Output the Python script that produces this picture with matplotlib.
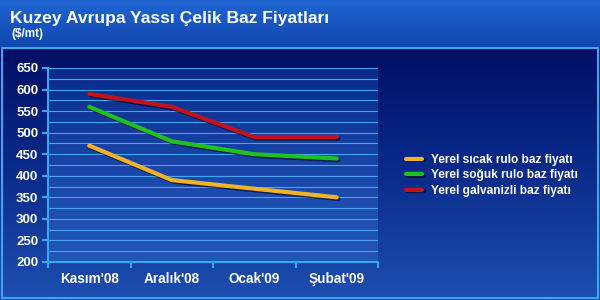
import numpy as np
import matplotlib.pyplot as plt
import matplotlib.patheffects as pe
from matplotlib.colors import LinearSegmentedColormap
from matplotlib.patches import Rectangle

plt.rcParams['font.family'] = ['Liberation Sans', 'DejaVu Sans']
plt.rcParams['font.weight'] = 'bold'

months = ["Kasım'08", "Aralık'08", "Ocak'09", "Şubat'09"]
sicak = [470, 390, 370, 350]
soguk = [560, 480, 450, 440]
galvaniz = [590, 560, 490, 490]
labels = ['Yerel sıcak rulo baz fiyatı', 'Yerel soğuk rulo baz fiyatı', 'Yerel galvanizli baz fiyatı']
colors = ['#f2b225', '#1ec21e', '#c4121c']

fig = plt.figure(figsize=(6, 3), dpi=100)

# background: title band + dark frame
bg = fig.add_axes([0, 0, 1, 1])
bg.set_xlim(0, 600)
bg.set_ylim(300, 0)
bg.axis('off')
top_cmap = LinearSegmentedColormap.from_list('top', ['#2066d2', '#1045ae'])
bg.imshow(np.linspace(0, 1, 50).reshape(-1, 1), cmap=top_cmap, aspect='auto',
          extent=[0, 600, 48, 0], zorder=0)
frame_cmap = LinearSegmentedColormap.from_list('frame', ['#000f66', '#0a2c8c', '#1d4fb0'])
bg.imshow(np.linspace(0, 1, 250).reshape(-1, 1), cmap=frame_cmap, aspect='auto',
          extent=[0, 600, 300, 48], zorder=0)
bg.add_patch(Rectangle((1.5, 47.5), 596, 250, fill=False, edgecolor='#38a6f0', lw=1.5, zorder=1))
bg.text(10, 23, 'Kuzey Avrupa Yassı Çelik Baz Fiyatları', color='white', fontsize=12.6,
        fontweight='bold', va='baseline')
bg.text(11, 37, '($/mt)', color='white', fontsize=8.5, fontweight='bold', va='baseline')

ax = fig.add_axes([48 / 600, 1 - 262 / 300, 330 / 600, 194 / 300])
ax.set_facecolor('none')
plot_cmap = LinearSegmentedColormap.from_list('plot', ['#0a2a8a', '#1846a8', '#2158b8'])
ax.imshow(np.linspace(0, 1, 100).reshape(-1, 1), cmap=plot_cmap, aspect='auto',
          extent=[-0.5, 3.5, 200, 650], zorder=0, origin='upper')

x = np.arange(len(months))
shadow = [pe.SimpleLineShadow(offset=(1.2, -1.2), shadow_color='#000020', alpha=0.6), pe.Normal()]
for vals, c, lab in zip([sicak, soguk, galvaniz], colors, labels):
    ax.plot(x, vals, color=c, lw=3, solid_capstyle='round', label=lab, zorder=3,
            path_effects=shadow)

ax.set_xlim(-0.5, 3.5)
ax.set_ylim(200, 650)
ax.set_yticks(np.arange(200, 651, 50))
ax.set_yticks(np.arange(225, 651, 50), minor=True)
ax.grid(True, which='both', axis='y', color='#45a6ee', lw=0.8, zorder=1)
ax.set_xticks(x)
ax.set_xticklabels(months)
ax.set_xticks(np.arange(-0.5, 3.6, 1), minor=True)
ax.tick_params(axis='x', which='major', length=0, pad=7, colors='white', labelsize=9.8)
ax.tick_params(axis='x', which='minor', length=4, color='#38a6f0', direction='out', width=1.5)
ax.tick_params(axis='y', which='major', length=4, color='#38a6f0', width=1.5, colors='white',
               labelsize=9.5, pad=3)
ax.tick_params(axis='y', which='minor', length=0)
for lbl in ax.get_xticklabels() + ax.get_yticklabels():
    lbl.set_fontweight('bold')
ax.tick_params(axis='y', colors='#38a6f0')
for lbl in ax.get_yticklabels():
    lbl.set_color('white')
for s in ['top', 'right']:
    ax.spines[s].set_visible(False)
for s in ['left', 'bottom']:
    ax.spines[s].set_color('#38a6f0')
    ax.spines[s].set_linewidth(1.5)

leg = fig.legend(loc='upper left', bbox_to_anchor=(395 / 600, 1 - 143 / 300), frameon=False,
                 fontsize=8.6, handlelength=1.4, handletextpad=0.7, labelspacing=0.3,
                 labelcolor='white')
for t in leg.get_texts():
    t.set_fontweight('bold')

fig.savefig('out.png', dpi=100)
